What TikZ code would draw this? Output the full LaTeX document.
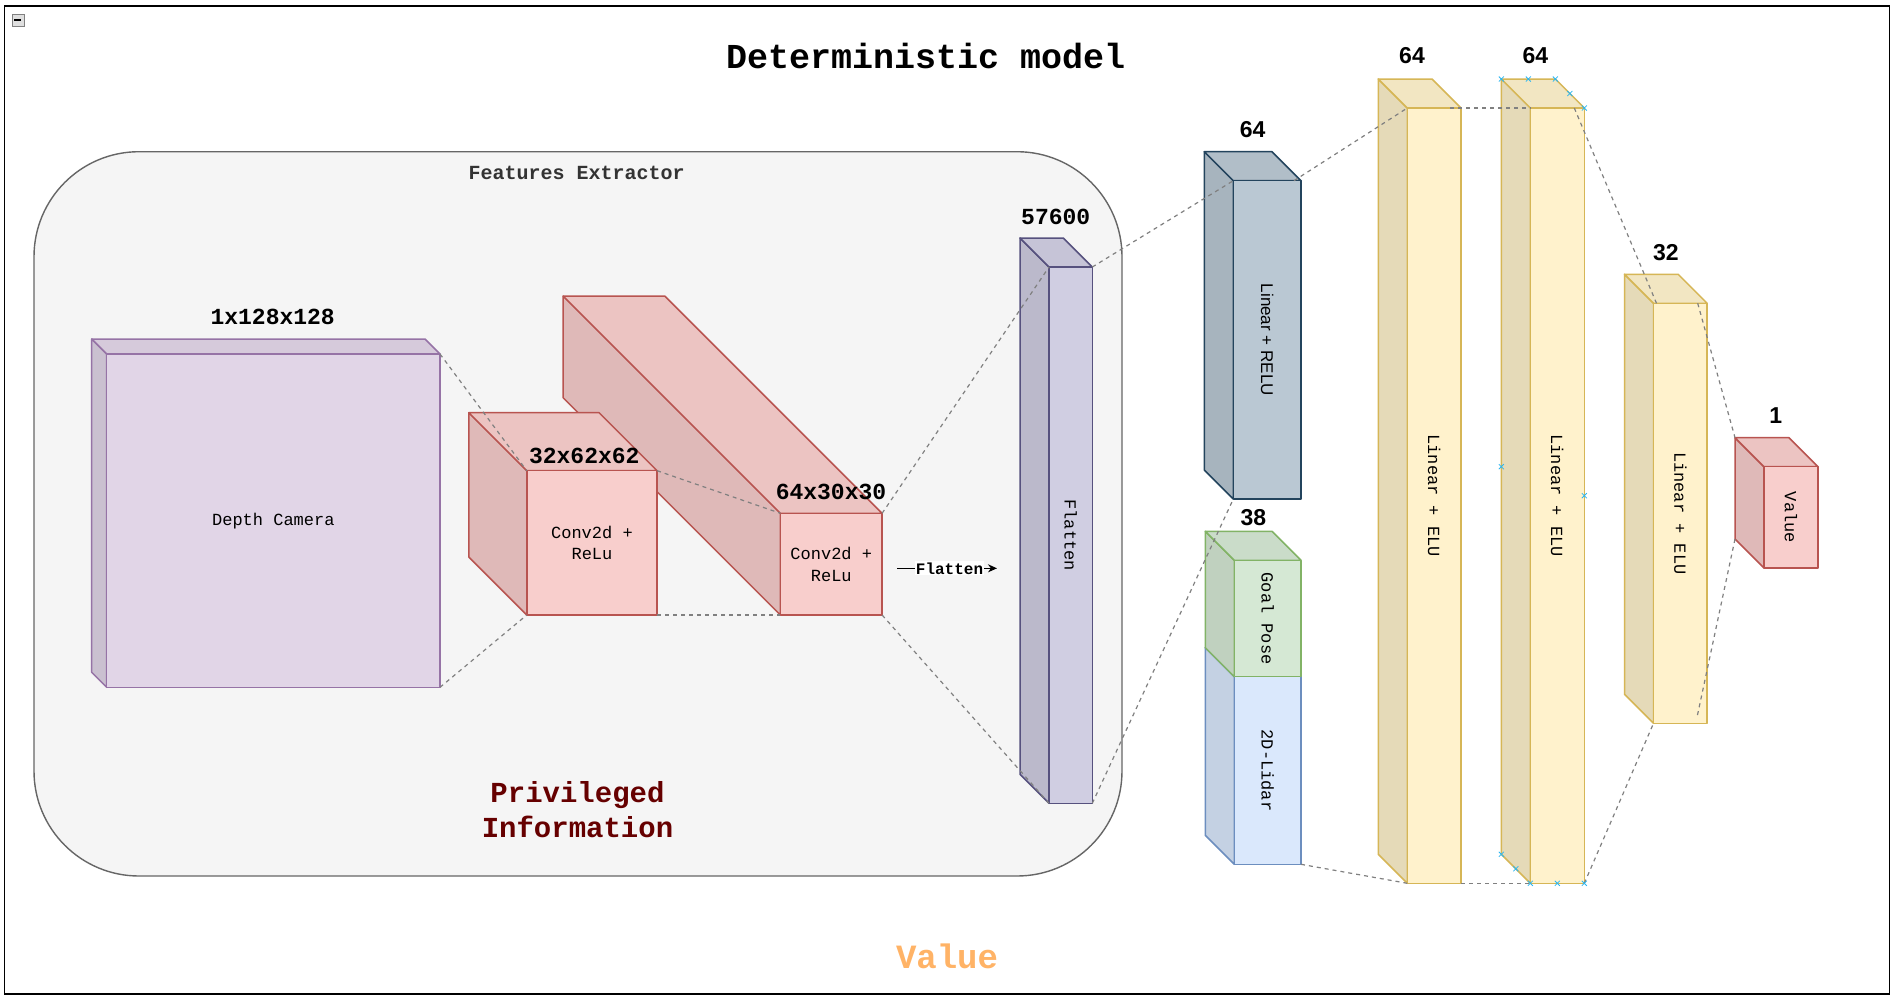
\documentclass[tikz,border=0pt]{standalone}
\usepackage{fontspec}
\setmainfont{Liberation Mono}
\setmonofont{Liberation Mono}
\setsansfont{Liberation Sans}
\usetikzlibrary{arrows.meta,calc}
\definecolor{dcfill}{HTML}{E1D5E7}\definecolor{dcline}{HTML}{9673A6}
\definecolor{cvfill}{HTML}{F8CECC}\definecolor{cvline}{HTML}{B85450}
\definecolor{flfill}{HTML}{D0CEE2}\definecolor{flline}{HTML}{56517E}
\definecolor{refill}{HTML}{BAC8D3}\definecolor{reline}{HTML}{23445D}
\definecolor{gpfill}{HTML}{D5E8D4}\definecolor{gpline}{HTML}{82B366}
\definecolor{lifill}{HTML}{DAE8FC}\definecolor{liline}{HTML}{6C8EBF}
\definecolor{yfill}{HTML}{FFF2CC}\definecolor{yline}{HTML}{D6B656}
\definecolor{dgray}{HTML}{808080}
\definecolor{fefill}{HTML}{F5F5F5}\definecolor{feline}{HTML}{666666}
\definecolor{febold}{HTML}{333333}
\definecolor{privred}{HTML}{660000}
\definecolor{valorange}{HTML}{FFB366}
\definecolor{xblue}{HTML}{29B6F2}
\tikzset{
  cubeline/.style={line width=1.5pt, line join=round},
  cubeface/.style={cubeline, inner sep=0pt, outer sep=0pt, align=center,
    font=\fontsize{17}{21.7}\selectfont},
  lbl/.style={font=\bfseries\fontsize{23}{27}\selectfont, inner sep=0pt},
  slbl/.style={font=\sffamily\bfseries\fontsize{23}{27}\selectfont, inner sep=0pt},
  rtext/.style={rotate=-90, inner sep=0pt, font=\fontsize{17}{21}\selectfont},
  dline/.style={draw=dgray, line width=1.2pt, dash pattern=on 4pt off 4pt},
  xmark/.style={draw=xblue, line width=0.8pt},
  container/.style={draw=feline, fill=fefill, line width=1.4pt, rounded corners=105pt,
    inner sep=0pt, outer sep=0pt}
}
% name, x1, y1, x2, y2, depth, fill, stroke, text
\newcommand\mycube[9]{%
  \pgfmathsetmacro\cubew{#4-#2}%
  \pgfmathsetmacro\cubeh{#5-#3}%
  \filldraw[fill=#7!90!black, draw=#8, cubeline] (#2,#3) -- ({#2-#6},{#3-#6}) -- ({#2-#6},{#5-#6}) -- (#2,#5) -- cycle;
  \filldraw[fill=#7!95!black, draw=#8, cubeline] (#2,#3) -- ({#2-#6},{#3-#6}) -- ({#4-#6},{#3-#6}) -- (#4,#3) -- cycle;
  \node[cubeface, fill=#7, draw=#8, minimum width=\cubew pt, minimum height=\cubeh pt] (#1) at ({(#2+#4)/2},{(#3+#5)/2}) {#9};
}
\begin{document}
\begin{tikzpicture}[x=1pt,y=-1pt]
\useasboundingbox (0,0) rectangle (1896,997);
\fill[white] (0,0) rectangle (1896,997);
\draw[line width=1.5pt] (4.7,6) rectangle (1889.3,994);
% collapse icon
\node[draw=gray, fill=gray!25, minimum size=12pt, inner sep=0pt] (col) at (17.9,19.9) {};
\draw[line width=1.5pt] ($(col.center)+(-3.5,0)$) -- ($(col.center)+(3.5,0)$);
% title
\node[font=\bfseries\fontsize{35}{40}\selectfont, inner sep=0pt] (title) at (925.6,55.6) {Deterministic model};
% container
\node[container, minimum width=1088pt, minimum height=724.3pt] (fe) at (578,513.85) {};
\node[font=\bfseries\fontsize{20}{24}\selectfont, text=febold, inner sep=0pt] (fet) at (576.6,172.7) {Features Extractor};
\node[font=\bfseries\fontsize{29}{35}\selectfont, text=privred, align=center, inner sep=0pt] (priv) at (577.5,810) {Privileged\\Information};
% cubes
\mycube{dc}{106.7}{354}{440}{687.3}{15}{dcfill}{dcline}{Depth Camera}
\mycube{ctwo}{780.4}{513.3}{882.1}{615}{217.2}{cvfill}{cvline}{Conv2d +\\ReLu}
\mycube{cone}{526.8}{470.7}{657.1}{615}{58}{cvfill}{cvline}{Conv2d +\\ReLu}
\mycube{fl}{1049}{267}{1092.3}{803.3}{29}{flfill}{flline}{}
\mycube{re}{1233.3}{180.7}{1301}{499}{29}{refill}{reline}{}
\mycube{li}{1234.3}{676.7}{1301}{864.3}{29}{lifill}{liline}{}
\mycube{gp}{1234.3}{560.3}{1301}{676.7}{29}{gpfill}{gpline}{}
\mycube{yone}{1407.3}{108}{1461}{883.3}{29}{yfill}{yline}{}
\mycube{ytwo}{1530.3}{108}{1584.3}{883.3}{29}{yfill}{yline}{}
\mycube{ythree}{1653.5}{303.3}{1707.2}{723.3}{29}{yfill}{yline}{}
\mycube{va}{1764}{466.7}{1818}{568}{29}{cvfill}{cvline}{}
% rotated texts
\node[rtext] (flt) at (fl.center) {Flatten};
\node[rtext, font=\sffamily\fontsize{17}{21}\selectfont] (ret) at (re.center) {Linear + RELU};
\node[rtext] (gpt) at (gp.center) {Goal Pose};
\node[rtext] (lit) at (li.center) {2D-Lidar};
\node[rtext] (y1t) at (yone.center) {Linear + ELU};
\node[rtext] (y2t) at (ytwo.center) {Linear + ELU};
\node[rtext] (y3t) at (ythree.center) {Linear + ELU};
\node[rtext] (vat) at (va.center) {Value};
% dimension labels
\node[lbl] (ldc) at (272.7,317.3) {1x128x128};
\node[lbl] (lc1) at (584.3,455.7) {32x62x62};
\node[lbl] (lc2) at (831,491.7) {64x30x30};
\node[lbl] (lfl) at (1055.7,216.7) {57600};
\node[slbl] (lre) at (1252.7,129.3) {64};
\node[slbl] (lgp) at (1253.3,517.3) {38};
\node[slbl] (ly1) at (1412,56) {64};
\node[slbl] (ly2) at (1535.3,56) {64};
\node[slbl] (ly3) at (1665.8,252.3) {32};
\node[slbl] (lva) at (1775.7,415.7) {1};
% flatten arrow
\coordinate (fa) at (897,568.3);
\coordinate (fb) at (997,568.3);
\draw[line width=1.3pt, -{Stealth[length=9pt,width=8pt]}] (fa) -- (fb);
\node[fill=white, inner sep=1pt, font=\bfseries\fontsize{16}{19}\selectfont] (flab) at (949.5,568.3) {Flatten};
% dashed connectors
\draw[dline] (dc.north east) -- (cone.north west);
\draw[dline] (dc.south east) -- (cone.south west);
\draw[dline] (cone.north east) -- (ctwo.north west);
\draw[dline] (cone.south east) -- (ctwo.south west);
\draw[dline] (ctwo.north east) -- (fl.north west);
\draw[dline] (ctwo.south east) -- (fl.south west);
\draw[dline] (fl.north east) -- (re.north west);
\draw[dline] ($(re.north east)+(-7,0)$) -- (yone.north west);
\draw[dline] (fl.south east) -- (re.south west);
\draw[dline] (li.south east) -- (yone.south west);
\draw[dline] ($(yone.north east)+(-11,0)$) -- (ytwo.north west);
\draw[dline] (yone.south east) -- (ytwo.south west);
\draw[dline] ($(ytwo.north east)+(-10,0)$) -- ($(ythree.north west)+(3,0)$);
\draw[dline] ($(ythree.north east)+(-9.5,0)$) -- ($(va.north west)+(-29,-29)$);
\draw[dline] (ytwo.south east) -- (ythree.south west);
\draw[dline] ($(va.south west)+(-29,-29)$) -- ($(ythree.south east)+(-10,-7)$);
% connection point markers
\foreach \p in {(1501.3,79),(1528.3,79),(1555.3,79),(1569.8,93.5),(1584.3,108),(1584.3,495.7),(1501.3,466.7),(1501.3,854.3),(1515.8,868.8),(1530.3,883.3),(1557.3,883.3),(1584.3,883.3)}
  \draw[xmark] \p ++(-2.5,-2.5) -- ++(5,5) \p ++(-2.5,2.5) -- ++(5,-5);
% bottom label
\node[font=\bfseries\fontsize{34}{40}\selectfont, text=valorange, inner sep=0pt] (vallbl) at (947,956.7) {Value};
\end{tikzpicture}
\end{document}
